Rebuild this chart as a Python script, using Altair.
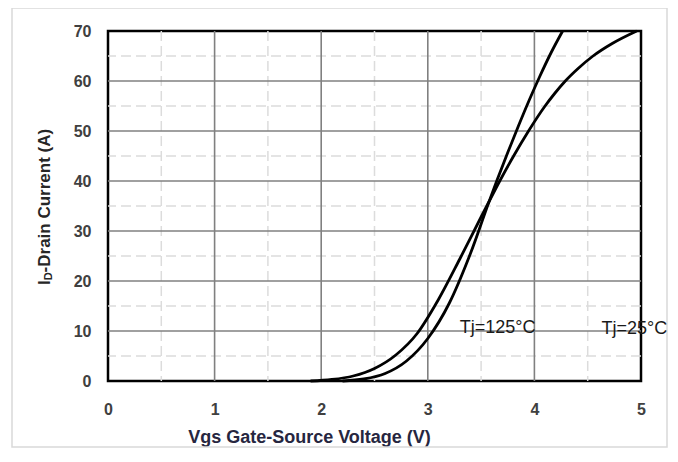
import altair as alt
import pandas as pd

# ---- data ----
vgs_125 = [1.90, 2.10, 2.30, 2.50, 2.70, 2.90, 3.10, 3.30, 3.50, 3.57, 3.675, 3.805, 3.945, 4.10, 4.19, 4.29, 4.41, 4.55, 4.73, 4.96]
id_125 = [0.0, 0.3, 1.0, 2.5, 5.2, 9.5, 16.3, 24.4, 32.8, 35.7, 40.0, 45.0, 50.0, 55.0, 57.5, 60.0, 62.5, 65.0, 67.5, 70.0]

vgs_25 = [2.20, 2.40, 2.60, 2.80, 3.00, 3.20, 3.40, 3.57, 3.65, 3.75, 3.85, 3.95, 4.05, 4.155, 4.265]
id_25 = [0.0, 0.4, 1.5, 4.0, 8.5, 15.5, 25.5, 35.6, 40.2, 45.7, 51.0, 56.1, 60.9, 65.6, 70.0]

x_ticks = [0, 1, 2, 3, 4, 5]
y_ticks = [0, 10, 20, 30, 40, 50, 60, 70]
x_major_grid = [1, 2, 3, 4]
y_major_grid = [10, 20, 30, 40, 50, 60]
x_minor_grid = [0.5, 1.5, 2.5, 3.5, 4.5]
y_minor_grid = [5, 15, 25, 35, 45, 55, 65]

label_text = ["Tj=125°C", "Tj=25°C"]
label_x = [3.30, 4.63]
label_y = [9.6, 9.4]

FONT = "Liberation Sans"
W, H = 533, 350

curves = pd.concat([
    pd.DataFrame({"vgs": vgs_125, "id": id_125, "series": "Tj=125°C"}),
    pd.DataFrame({"vgs": vgs_25, "id": id_25, "series": "Tj=25°C"}),
])

xs = alt.Scale(domain=[0, 5], nice=False, zero=False)
ys = alt.Scale(domain=[0, 70], nice=False, zero=False)

x_axis = alt.Axis(values=x_ticks, format="d", grid=False, ticks=False, tickSize=0, domain=False,
                  labelFont=FONT, labelFontWeight="bold", labelFontSize=16, labelColor="#404040",
                  labelPadding=20, labelBaseline="top", labelFlush=False,
                  title="Vgs Gate-Source Voltage (V)", titleFont=FONT, titleFontWeight="bold",
                  titleFontSize=18, titleColor="#262640", titleX=201, titleY=61,
                  titleAlign="center", titleBaseline="alphabetic", titleAnchor="start")
y_axis = alt.Axis(values=y_ticks, format="d", grid=False, ticks=False, tickSize=0, domain=False,
                  labelFont=FONT, labelFontWeight="bold", labelFontSize=16, labelColor="#404040",
                  labelPadding=17, labelFlush=False, title=None)

# outer light frame
frame = alt.Chart(pd.DataFrame({"k": [0]})).mark_rect(
    fill=None, stroke="#d9d9d9", strokeWidth=1.5
).encode(x=alt.value(-96), x2=alt.value(559), y=alt.value(-23), y2=alt.value(416))

minor_x = alt.Chart(pd.DataFrame({"v": x_minor_grid})).mark_rule(
    color="#dcdcdc", strokeWidth=1.5, strokeDash=[10, 5]
).encode(x=alt.X("v:Q", scale=xs, axis=x_axis))
minor_y = alt.Chart(pd.DataFrame({"v": y_minor_grid})).mark_rule(
    color="#dcdcdc", strokeWidth=1.5, strokeDash=[10, 5]
).encode(y=alt.Y("v:Q", scale=ys, axis=y_axis))
major_x = alt.Chart(pd.DataFrame({"v": x_major_grid})).mark_rule(
    color="#808080", strokeWidth=1.6
).encode(x=alt.X("v:Q", scale=xs))
major_y = alt.Chart(pd.DataFrame({"v": y_major_grid})).mark_rule(
    color="#808080", strokeWidth=1.6
).encode(y=alt.Y("v:Q", scale=ys))

lines = alt.Chart(curves).mark_line(
    color="black", strokeWidth=2.8, interpolate="monotone"
).encode(
    x=alt.X("vgs:Q", scale=xs),
    y=alt.Y("id:Q", scale=ys),
    detail="series:N",
)

labels = alt.Chart(pd.DataFrame({"t": label_text, "x": label_x, "y": label_y})).mark_text(
    font=FONT, fontSize=18, color="#1a1a1a", align="left", baseline="alphabetic"
).encode(x=alt.X("x:Q", scale=xs), y=alt.Y("y:Q", scale=ys), text="t:N")

# y-axis title with subscript D
yt_i = alt.Chart(pd.DataFrame({"t": ["I"]})).mark_text(
    font=FONT, fontWeight="bold", fontSize=17, color="#262626", angle=270,
    align="left", baseline="middle"
).encode(x=alt.value(-63), y=alt.value(254), text="t:N")
yt_d = alt.Chart(pd.DataFrame({"t": ["D"]})).mark_text(
    font=FONT, fontWeight="bold", fontSize=11, color="#262626", angle=270,
    align="left", baseline="middle"
).encode(x=alt.value(-59), y=alt.value(249.3), text="t:N")
yt_rest = alt.Chart(pd.DataFrame({"t": ["-Drain Current (A)"]})).mark_text(
    font=FONT, fontWeight="bold", fontSize=17, color="#262626", angle=270,
    align="left", baseline="middle"
).encode(x=alt.value(-63), y=alt.value(241.4), text="t:N")

chart = alt.layer(
    frame, minor_x, minor_y, major_x, major_y, lines, labels, yt_i, yt_d, yt_rest
).properties(
    width=W, height=H,
    autosize=alt.AutoSizeParams(type="none"),
    padding={"left": 100, "top": 23, "right": 29, "bottom": 67},
    background="white",
).configure_view(
    stroke="black", strokeWidth=2.5
)

chart.save("out.html", embed_options={"renderer": "svg", "actions": False})
